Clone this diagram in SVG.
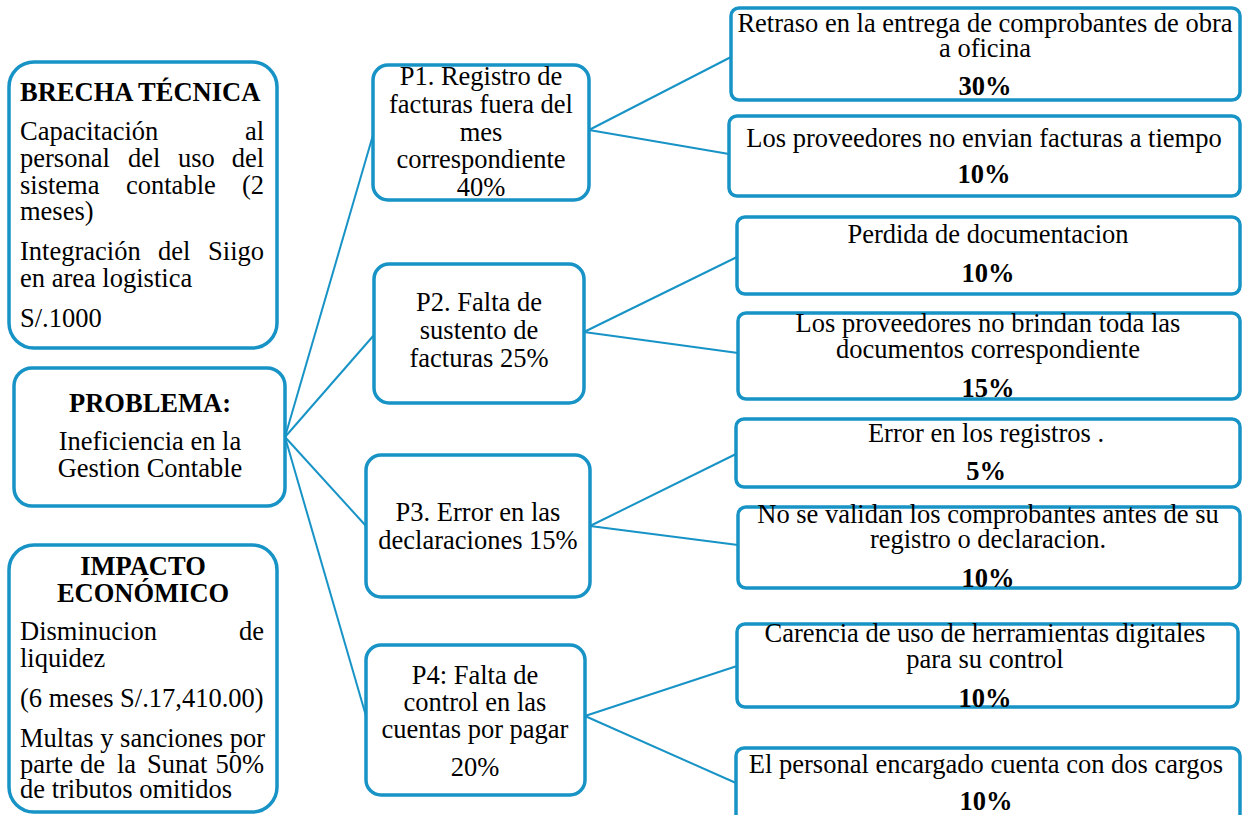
<svg xmlns="http://www.w3.org/2000/svg" width="1247" height="815" viewBox="0 0 1247 815">
<style>
.box{fill:#fff;stroke:#1793C6;stroke-width:3.5}
.t{font-family:"Liberation Serif","Times New Roman",serif;font-size:26.5px;fill:#000}
.b{font-weight:bold}
.c{text-anchor:middle}
.e{text-anchor:end}
.ln{stroke:#1793C6;stroke-width:2;fill:none}
</style>
<rect width="1247" height="815" fill="#fff"/>
<g id="connectors">
<line class="ln" x1="285" y1="437" x2="373" y2="135"/>
<line class="ln" x1="285" y1="437" x2="374" y2="335"/>
<line class="ln" x1="285" y1="437" x2="366" y2="526"/>
<line class="ln" x1="285" y1="437" x2="366" y2="716"/>
<line class="ln" x1="589" y1="130" x2="731" y2="57"/>
<line class="ln" x1="589" y1="130" x2="729" y2="154"/>
<line class="ln" x1="584" y1="332" x2="737" y2="257"/>
<line class="ln" x1="584" y1="332" x2="738" y2="353"/>
<line class="ln" x1="590" y1="526" x2="736" y2="454"/>
<line class="ln" x1="590" y1="526" x2="738" y2="545"/>
<line class="ln" x1="585" y1="716" x2="737" y2="666"/>
<line class="ln" x1="585" y1="716" x2="736" y2="783"/>
</g>
<g id="brecha">
<rect class="box" x="9" y="62" width="268" height="286" rx="25"/>
<text class="t b" x="20" y="101">BRECHA TÉCNICA</text>
<text class="t" x="20" y="140">Capacitación</text>
<text class="t e" x="264" y="140">al</text>
<text class="t" y="167"><tspan x="20">personal</tspan><tspan x="128">del</tspan><tspan x="178">uso</tspan></text>
<text class="t e" x="264" y="167">del</text>
<text class="t" y="194"><tspan x="20">sistema</tspan><tspan x="126">contable</tspan></text>
<text class="t e" x="264" y="194">(2</text>
<text class="t" x="20" y="220">meses)</text>
<text class="t" y="260"><tspan x="20">Integración</tspan><tspan x="158">del</tspan></text>
<text class="t e" x="264" y="260">Siigo</text>
<text class="t" x="20" y="287">en area logistica</text>
<text class="t" x="20" y="327">S/.1000</text>
</g>
<g id="problema">
<rect class="box" x="14" y="368" width="271" height="138" rx="18"/>
<text class="t b c" x="150" y="412">PROBLEMA:</text>
<text class="t c" x="150" y="450">Ineficiencia en la</text>
<text class="t c" x="150" y="477">Gestion Contable</text>
</g>
<g id="impacto">
<rect class="box" x="9" y="545" width="268" height="267" rx="25"/>
<text class="t b c" x="143" y="575">IMPACTO</text>
<text class="t b c" x="143" y="602">ECONÓMICO</text>
<text class="t" x="20" y="640">Disminucion</text>
<text class="t e" x="264" y="640">de</text>
<text class="t" x="20" y="667">liquidez</text>
<text class="t" x="20" y="707">(6 meses S/.17,410.00)</text>
<text class="t" x="20" y="747">Multas y sanciones por</text>
<text class="t" y="773"><tspan x="20">parte</tspan><tspan x="80">de</tspan><tspan x="117">la</tspan><tspan x="147">Sunat</tspan></text>
<text class="t e" x="264" y="773">50%</text>
<text class="t" x="20" y="798">de tributos omitidos</text>
</g>
<g id="p1">
<rect class="box" x="373" y="65" width="216" height="135" rx="15"/>
<text class="t c" x="481" y="85">P1. Registro de</text>
<text class="t c" x="481" y="113">facturas fuera del</text>
<text class="t c" x="481" y="141">mes</text>
<text class="t c" x="481" y="168">correspondiente</text>
<text class="t c" x="481" y="196">40%</text>
</g>
<g id="p2">
<rect class="box" x="374" y="264" width="210" height="139" rx="15"/>
<text class="t c" x="479" y="311">P2. Falta de</text>
<text class="t c" x="479" y="339">sustento de</text>
<text class="t c" x="479" y="367">facturas 25%</text>
</g>
<g id="p3">
<rect class="box" x="366" y="455" width="224" height="142" rx="15"/>
<text class="t c" x="478" y="521">P3. Error en las</text>
<text class="t c" x="478" y="549">declaraciones 15%</text>
</g>
<g id="p4">
<rect class="box" x="366" y="645" width="219" height="150" rx="15"/>
<text class="t c" x="475" y="684">P4: Falta de</text>
<text class="t c" x="475" y="711">control en las</text>
<text class="t c" x="475" y="738">cuentas por pagar</text>
<text class="t c" x="475" y="776">20%</text>
</g>
<g id="r1">
<rect class="box" x="731" y="8" width="509" height="92" rx="8"/>
<text class="t c" x="985" y="32">Retraso en la entrega de comprobantes de obra</text>
<text class="t c" x="985" y="57">a oficina</text>
<text class="t b c" x="985" y="95">30%</text>
</g>
<g id="r2">
<rect class="box" x="729" y="116" width="511" height="80" rx="8"/>
<text class="t c" x="984" y="147">Los proveedores no envian facturas a tiempo</text>
<text class="t b c" x="984" y="183">10%</text>
</g>
<g id="r3">
<rect class="box" x="737" y="217" width="503" height="77" rx="8"/>
<text class="t c" x="988" y="243">Perdida de documentacion</text>
<text class="t b c" x="988" y="282">10%</text>
</g>
<g id="r4">
<rect class="box" x="738" y="313" width="502" height="86" rx="8"/>
<text class="t c" x="988" y="332">Los proveedores no brindan toda las</text>
<text class="t c" x="988" y="358">documentos correspondiente</text>
<text class="t b c" x="988" y="397">15%</text>
</g>
<g id="r5">
<rect class="box" x="736" y="419" width="504" height="68" rx="8"/>
<text class="t c" x="986" y="442">Error en los registros .</text>
<text class="t b c" x="986" y="480">5%</text>
</g>
<g id="r6">
<rect class="box" x="738" y="507" width="502" height="81" rx="8"/>
<text class="t c" x="988" y="523">No se validan los comprobantes antes de su</text>
<text class="t c" x="988" y="548">registro o declaracion.</text>
<text class="t b c" x="988" y="587">10%</text>
</g>
<g id="r7">
<rect class="box" x="737" y="624" width="501" height="83" rx="8"/>
<text class="t c" x="985" y="642">Carencia de uso de herramientas digitales</text>
<text class="t c" x="985" y="668">para su control</text>
<text class="t b c" x="985" y="707">10%</text>
</g>
<g id="r8">
<rect class="box" x="736" y="748" width="504" height="80" rx="8"/>
<text class="t c" x="986" y="773">El personal encargado cuenta con dos cargos</text>
<text class="t b c" x="986" y="810">10%</text>
</g>
</svg>
